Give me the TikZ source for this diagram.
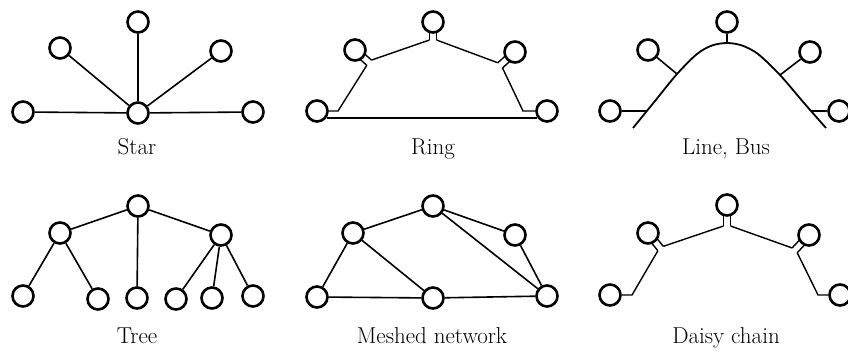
\documentclass[tikz,border=0pt]{standalone}
\usetikzlibrary{calc}
\begin{document}
\begin{tikzpicture}[x=1pt,y=1pt,
  station/.style={circle,draw,line width=2.6pt,minimum size=21pt,inner sep=0pt,fill=white},
  link/.style={line width=1.6pt},
  cable/.style={line width=1.4pt,line join=miter},
  bus/.style={line width=1.8pt},
  caption/.style={font=\fontsize{23}{27}\selectfont,anchor=base}]
\clip (0,0) rectangle (848,352);

% two-wire tap below a station: #1 station, #2 direction, #3 length
\newcommand\tappair[3]{%
  \coordinate (#1-p) at ($(#1)+(#2:#3pt)+(#2+90:3.5pt)$);
  \coordinate (#1-m) at ($(#1)+(#2:#3pt)+(#2-90:3.5pt)$);
  \draw[cable] ($(#1)+(#2:9pt)+(#2+90:3.5pt)$) -- (#1-p);
  \draw[cable] ($(#1)+(#2:9pt)+(#2-90:3.5pt)$) -- (#1-m);
}

% ---------------- Star ----------------
\node[station] (sc) at (138,239) {};
\node[station] (st) at (138,330) {};
\node[station] (sul) at (60,304) {};
\node[station] (sur) at (221,301) {};
\node[station] (sl) at (23,240) {};
\node[station] (sr) at (253,240) {};
\foreach \n in {st,sul,sur,sl,sr} \draw[link] (sc) -- (\n);
\node[caption] (cap-star) at (137,197) {Star};

% ---------------- Ring ----------------
\node[station] (rt) at (433,330) {};
\node[station] (rul) at (355,302) {};
\node[station] (rur) at (515,300) {};
\node[station] (rl) at (317,241) {};
\node[station] (rr) at (547,241) {};
\tappair{rt}{-90}{18}
\tappair{rul}{-42}{19}
\tappair{rur}{-138}{20}
\coordinate (rl-t) at ($(rl)+(21pt,0)$);
\coordinate (rr-t) at ($(rr)+(-24pt,0)$);
\draw[cable] (rl.east) -- (rl-t) -- (rul-m);
\draw[cable] (rul-p) -- (rt-m);
\draw[cable] (rt-p) -- (rur-m);
\draw[cable] (rur-p) -- (rr-t) -- (rr.west);
\draw[cable,line width=1.7pt] (rl.-35) -- (rr.-145);
\node[caption] (cap-ring) at (433,197) {Ring};

% ---------------- Line, Bus ----------------
\node[station] (bt) at (727,330) {};
\node[station] (bul) at (648,302) {};
\node[station] (bur) at (810,300) {};
\node[station] (bl) at (610,241) {};
\node[station] (br) at (839,241) {};
\coordinate (j-t) at (727,309);
\coordinate (j-ul) at (677,278);
\coordinate (j-ur) at (780,277);
\coordinate (j-l) at (647,241);
\coordinate (j-r) at (811,241);
\draw[bus] plot[smooth] coordinates {(633,224) (655,251) (j-ul) (697,298) (712,306.5) (j-t) (742,306.5) (758,298) (j-ur) (804,249) (826,224)};
\draw[link] (bt) -- (j-t);
\draw[link] (bul) -- (j-ul);
\draw[link] (bur) -- (j-ur);
\draw[link] (bl) -- (j-l);
\draw[link] (br) -- (j-r);
\node[caption] (cap-bus) at (726,197) {Line, Bus};

% ---------------- Tree ----------------
\node[station] (tt) at (138,146) {};
\node[station] (tl) at (60,119) {};
\node[station] (tr) at (221,117) {};
\node[station] (t1) at (23,56) {};
\node[station] (t2) at (98,53) {};
\node[station] (t3) at (137,54) {};
\node[station] (t4) at (176,53) {};
\node[station] (t5) at (212,54) {};
\node[station] (t6) at (253,56) {};
\draw[link] (tt) -- (tl);
\draw[link] (tt) -- (tr);
\draw[link] (tt) -- (t3);
\draw[link] (tl) -- (t1);
\draw[link] (tl) -- (t2);
\draw[link] (tr) -- (t4);
\draw[link] (tr) -- (t5);
\draw[link] (tr) -- (t6);
\node[caption] (cap-tree) at (137,8) {Tree};

% ---------------- Meshed network ----------------
\node[station] (mt) at (433,146) {};
\node[station] (mul) at (353,119) {};
\node[station] (mur) at (515,117) {};
\node[station] (mbl) at (317,55) {};
\node[station] (mbm) at (433,54) {};
\node[station] (mbr) at (547,56) {};
\draw[link] (mt) -- (mul);
\draw[link] (mt) -- (mur);
\draw[link] (mt) -- (mbr);
\draw[link] (mul) -- (mbl);
\draw[link] (mul) -- (mbm);
\draw[link] (mur) -- (mbr);
\draw[link] (mbl) -- (mbm);
\draw[link] (mbm) -- (mbr);
\node[caption] (cap-mesh) at (432,8) {Meshed network};

% ---------------- Daisy chain ----------------
\node[station] (dt) at (727,147) {};
\node[station] (dul) at (648,119) {};
\node[station] (dur) at (809,117) {};
\node[station] (dl) at (610,57) {};
\node[station] (dr) at (840,57) {};
\tappair{dt}{-90}{21}
\tappair{dul}{-51}{20}
\tappair{dur}{-133}{21}
\coordinate (dl-t) at ($(dl)+(22pt,0)$);
\coordinate (dr-t) at ($(dr)+(-22pt,0)$);
\draw[cable] (dl.east) -- (dl-t) -- (dul-m);
\draw[cable] (dul-p) -- (dt-m);
\draw[cable] (dt-p) -- (dur-m);
\draw[cable] (dur-p) -- (dr-t) -- (dr.west);
\node[caption] (cap-daisy) at (726,8) {Daisy chain};
\end{tikzpicture}
\end{document}
